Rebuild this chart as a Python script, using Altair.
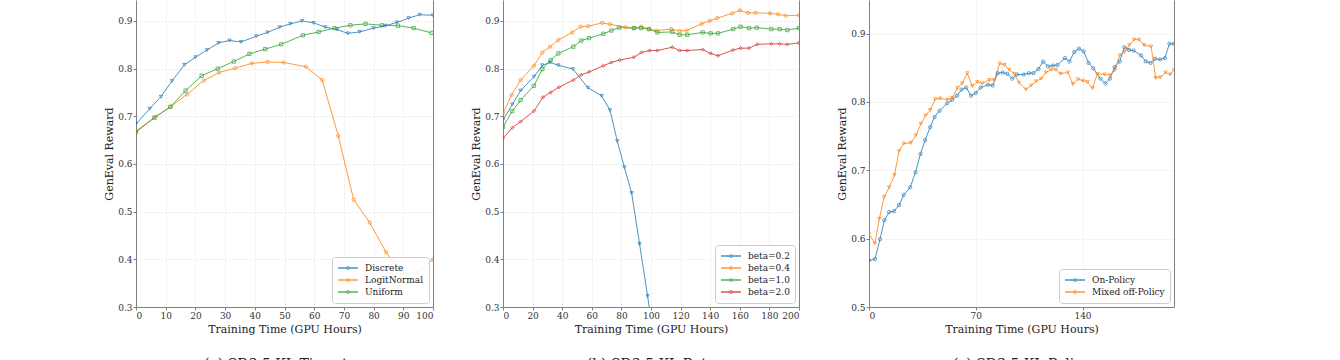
import altair as alt
import pandas as pd

FONT = "DejaVu Serif"
BLUE, ORANGE, GREEN, RED = "#1f77b4", "#ff7f0e", "#2ca02c", "#d62728"

# ---------------- Panel (a): timestep sampling ----------------
a_names = ["Discrete", "LogitNormal", "Uniform"]
a_discrete_x = [0, 4.6, 8.4, 12.1, 16.3, 20.0, 23.9, 27.8, 31.5, 35.4, 40.5, 44.3, 48.4,
                52.0, 55.9, 59.8, 63.7, 67.7, 71.3, 75.3, 80.0, 84.0, 87.9, 91.8, 95.5, 100]
a_discrete_y = [0.684, 0.716, 0.741, 0.774, 0.808, 0.824, 0.839, 0.854, 0.859, 0.856, 0.868,
                0.876, 0.887, 0.894, 0.900, 0.896, 0.887, 0.882, 0.874, 0.877, 0.885, 0.890,
                0.897, 0.906, 0.913, 0.912]
a_logit_x = [0, 6.5, 11.6, 17.2, 22.8, 28.0, 33.4, 39.0, 44.3, 49.7, 57.2, 62.7, 68.1,
             73.3, 78.7, 84.2, 89.6, 94.6, 100]
a_logit_y = [0.669, 0.699, 0.720, 0.746, 0.775, 0.792, 0.801, 0.811, 0.814, 0.813, 0.804,
             0.776, 0.659, 0.525, 0.477, 0.415, 0.371, 0.371, 0.400]
a_uniform_x = [0, 6.2, 11.6, 16.7, 22.1, 27.5, 32.9, 38.2, 43.5, 48.9, 56.2, 61.5, 66.8,
               72.2, 77.3, 82.8, 88.2, 93.5, 99.5]
a_uniform_y = [0.667, 0.697, 0.720, 0.754, 0.785, 0.800, 0.815, 0.831, 0.841, 0.851, 0.870,
               0.877, 0.885, 0.891, 0.894, 0.891, 0.890, 0.885, 0.875]

# ---------------- Panel (b): KL beta ----------------
b_names = ["beta=0.2", "beta=0.4", "beta=1.0", "beta=2.0"]
b02_x = [0, 6.3, 11.9, 20.9, 26.6, 31.8, 37.4, 47.3, 57.4, 66.6, 72.3, 77.2, 82.0, 86.9,
         92.3, 97.7, 103.0]
b02_y = [0.692, 0.725, 0.754, 0.783, 0.807, 0.813, 0.807, 0.799, 0.760, 0.743, 0.713, 0.648,
         0.593, 0.539, 0.432, 0.323, 0.210]
b04_x = [0, 5.8, 11.9, 20.9, 26.6, 31.8, 37.4, 46.8, 52.4, 57.6, 67.1, 72.3, 82.9, 88.5,
         93.4, 98.6, 103.8, 113.7, 119.3, 124.1, 134.2, 139.6, 144.8, 154.9, 160.1, 165.5,
         170.7, 180.4, 185.8, 191.0, 200]
b04_y = [0.706, 0.745, 0.776, 0.806, 0.834, 0.846, 0.860, 0.876, 0.888, 0.889, 0.896, 0.893,
         0.887, 0.885, 0.888, 0.883, 0.880, 0.883, 0.879, 0.880, 0.894, 0.900, 0.906, 0.916,
         0.922, 0.917, 0.917, 0.916, 0.914, 0.911, 0.912]
b10_x = [0, 6.3, 11.9, 20.9, 26.6, 32.2, 37.4, 47.5, 52.9, 58.1, 67.8, 73.2, 78.4, 88.5,
         93.4, 98.6, 104.3, 114.4, 119.3, 124.5, 134.9, 140.3, 145.3, 155.6, 160.5, 166.2,
         171.4, 181.3, 186.9, 192.1, 200]
b10_y = [0.678, 0.711, 0.734, 0.764, 0.799, 0.818, 0.832, 0.846, 0.859, 0.864, 0.873, 0.880,
         0.886, 0.885, 0.885, 0.883, 0.876, 0.877, 0.871, 0.871, 0.876, 0.874, 0.874, 0.883,
         0.888, 0.885, 0.886, 0.883, 0.883, 0.881, 0.885]
b20_x = [0, 6.3, 11.9, 20.9, 27.0, 32.2, 37.8, 47.5, 52.9, 58.1, 67.8, 73.2, 78.8, 88.5,
         93.6, 99.1, 104.3, 114.4, 119.3, 124.5, 134.9, 140.3, 145.3, 155.4, 160.5, 166.2,
         171.8, 181.3, 186.9, 192.1, 200]
b20_y = [0.654, 0.676, 0.689, 0.711, 0.740, 0.750, 0.761, 0.776, 0.787, 0.793, 0.806, 0.813,
         0.818, 0.824, 0.834, 0.838, 0.838, 0.845, 0.838, 0.838, 0.840, 0.832, 0.827, 0.839,
         0.843, 0.843, 0.851, 0.852, 0.852, 0.851, 0.854]

# ---------------- Panel (c): policy ----------------
c_names = ["On-Policy", "Mixed off-Policy"]
c_on_x = [0, 3.9, 7.2, 10.1, 13.2, 16.4, 19.7, 22.8, 27.0, 30.5, 33.8, 36.8, 40.1, 43.0,
          46.3, 51.3, 54.6, 57.7, 60.7, 63.8, 66.9, 70.0, 73.2, 78.0, 81.1, 84.4, 87.7,
          90.7, 94.0, 97.1, 101.5, 104.8, 107.8, 111.1, 114.2, 117.3, 120.6, 123.6, 128.5,
          131.5, 134.6, 137.7, 140.7, 144.0, 147.1, 151.7, 155.0, 158.0, 161.1, 164.4,
          167.5, 170.5, 173.6, 178.4, 181.5, 184.6, 187.6, 190.9, 194.0, 197.0, 200]
c_on_y = [0.568, 0.570, 0.599, 0.627, 0.639, 0.640, 0.649, 0.664, 0.675, 0.697, 0.724,
          0.744, 0.763, 0.778, 0.787, 0.798, 0.803, 0.809, 0.818, 0.821, 0.809, 0.813,
          0.821, 0.825, 0.824, 0.842, 0.843, 0.841, 0.834, 0.840, 0.840, 0.842, 0.842,
          0.848, 0.859, 0.852, 0.853, 0.854, 0.864, 0.859, 0.873, 0.878, 0.874, 0.857,
          0.849, 0.834, 0.827, 0.834, 0.851, 0.859, 0.880, 0.876, 0.875, 0.868, 0.859,
          0.857, 0.863, 0.862, 0.864, 0.885, 0.885]
c_mix_x = [0, 3.9, 6.8, 9.9, 13.2, 16.7, 19.7, 22.8, 27.4, 30.7, 34.0, 37.1, 40.1, 43.4,
           46.7, 51.5, 54.6, 57.9, 61.1, 64.4, 67.7, 71.0, 74.3, 78.9, 82.2, 85.7, 88.8,
           92.0, 95.3, 98.4, 103.0, 106.3, 109.6, 112.9, 116.0, 119.3, 122.6, 125.6, 130.4,
           133.7, 137.0, 140.3, 143.3, 146.6, 149.7, 154.5, 158.0, 161.1, 164.4, 167.5,
           170.7, 173.8, 177.1, 180.4, 185.0, 188.0, 191.1, 194.4, 197.5, 200]
c_mix_y = [0.607, 0.593, 0.629, 0.661, 0.675, 0.693, 0.728, 0.739, 0.740, 0.751, 0.768,
           0.780, 0.788, 0.804, 0.805, 0.803, 0.806, 0.820, 0.827, 0.842, 0.823, 0.829,
           0.827, 0.832, 0.832, 0.856, 0.854, 0.847, 0.841, 0.828, 0.818, 0.824, 0.830,
           0.834, 0.843, 0.847, 0.847, 0.841, 0.843, 0.826, 0.833, 0.831, 0.829, 0.820,
           0.841, 0.840, 0.839, 0.846, 0.868, 0.873, 0.883, 0.891, 0.891, 0.883, 0.881,
           0.835, 0.836, 0.843, 0.840, 0.847]

# legend glyph: short line with a small open marker in the middle
LEGEND_SYMBOL = ("M-1,0H-0.12M0.12,0H1"
                 "M0.12,0A0.12,0.12,0,1,1,-0.12,0A0.12,0.12,0,1,1,0.12,0")


def frame(series):
    rows = []
    for name, xs, ys in series:
        for xv, yv in zip(xs, ys):
            rows.append({"series": name, "x": xv, "y": yv})
    return pd.DataFrame(rows)


def panel(df, names, colors, shapes, xdomain, xticks, ydomain, yticks, width, height, caption):
    legend = alt.Legend(
        title=None, orient="bottom-right", offset=4,
        fillColor="rgba(255,255,255,0.85)", strokeColor="#cccccc", cornerRadius=3,
        padding=5, labelFont=FONT, labelFontSize=9, labelColor="#222222",
        symbolType=LEGEND_SYMBOL, symbolSize=400, symbolStrokeWidth=1.3,
        symbolFillColor="transparent",
        clipHeight=12, rowPadding=0, labelOffset=6,
    )
    cscale = alt.Scale(domain=names, range=colors)
    yscale = alt.Scale(domain=ydomain, nice=False, zero=False)
    x = alt.X("x:Q", scale=alt.Scale(domain=xdomain, nice=False, zero=False),
              axis=alt.Axis(values=xticks, title="Training Time (GPU Hours)", format="d"))
    y_left = alt.Y("y:Q", scale=yscale,
                   axis=alt.Axis(values=yticks, format=".1f", title="GenEval Reward"))
    y_right = alt.Y("y:Q", scale=yscale,
                    axis=alt.Axis(orient="right", labels=False, ticks=False,
                                  grid=False, title=None))
    y_none = alt.Y("y:Q", scale=yscale, axis=None)
    base = alt.Chart(df)
    lines = base.mark_line(clip=True, strokeWidth=1, opacity=0.8).encode(
        x=x, y=y_left,
        color=alt.Color("series:N", scale=cscale, sort=names, legend=legend))
    layers = [lines]
    for i, (name, shp) in enumerate(zip(names, shapes)):
        pt = base.transform_filter(alt.datum.series == name).mark_point(
            clip=True, size=11, filled=False, strokeWidth=0.8, opacity=0.85, shape=shp
        ).encode(
            x=x, y=y_right if i == 0 else y_none,
            color=alt.Color("series:N", scale=cscale, sort=names, legend=None))
        layers.append(pt)
    return alt.layer(*layers).resolve_axis(y="independent").properties(
        width=width, height=height,
        title=alt.TitleParams(caption, orient="bottom", font=FONT, fontSize=14,
                              fontWeight="normal", color="#222222", offset=24,
                              anchor="middle", frame="group"))


p1 = panel(frame([(a_names[0], a_discrete_x, a_discrete_y),
                  (a_names[1], a_logit_x, a_logit_y),
                  (a_names[2], a_uniform_x, a_uniform_y)]),
           a_names, [BLUE, ORANGE, GREEN], ["triangle-down", "circle", "square"],
           [0, 100], list(range(0, 101, 10)), [0.3, 0.944],
           [0.3, 0.4, 0.5, 0.6, 0.7, 0.8, 0.9], 297, 307, "(a) SD3.5 KL Timestep")

p2 = panel(frame([(b_names[0], b02_x, b02_y), (b_names[1], b04_x, b04_y),
                  (b_names[2], b10_x, b10_y), (b_names[3], b20_x, b20_y)]),
           b_names, [BLUE, ORANGE, GREEN, RED], ["triangle-down", "circle", "square", "diamond"],
           [0, 200], list(range(0, 201, 20)), [0.3, 0.944],
           [0.3, 0.4, 0.5, 0.6, 0.7, 0.8, 0.9], 296, 307, "(b) SD3.5 KL Beta")

p3 = panel(frame([(c_names[0], c_on_x, c_on_y), (c_names[1], c_mix_x, c_mix_y)]),
           c_names, [BLUE, ORANGE], ["circle", "triangle-down"],
           [0, 200], [0, 70, 140], [0.5, 0.949],
           [0.5, 0.6, 0.7, 0.8, 0.9], 305, 307, "(c) SD3.5 KL Policy")

chart = alt.hconcat(p1, p2, p3, spacing=70, bounds="flush").resolve_scale(
    color="independent").properties(
    padding={"left": 103, "top": 0, "right": 5, "bottom": 5}
).configure_view(stroke=None).configure_axis(
    labelFont=FONT, labelFontSize=9, labelColor="#333333",
    titleFont=FONT, titleFontSize=11, titleFontWeight="normal", titleColor="#222222",
    domainColor="#808080", domainWidth=1, tickColor="#808080", tickSize=3,
    labelPadding=1, titlePadding=3,
    gridColor="#dcdcdc", gridDash=[2, 2], gridWidth=0.6,
)

chart.save("out.html", embed_options={"renderer": "svg", "actions": False})
